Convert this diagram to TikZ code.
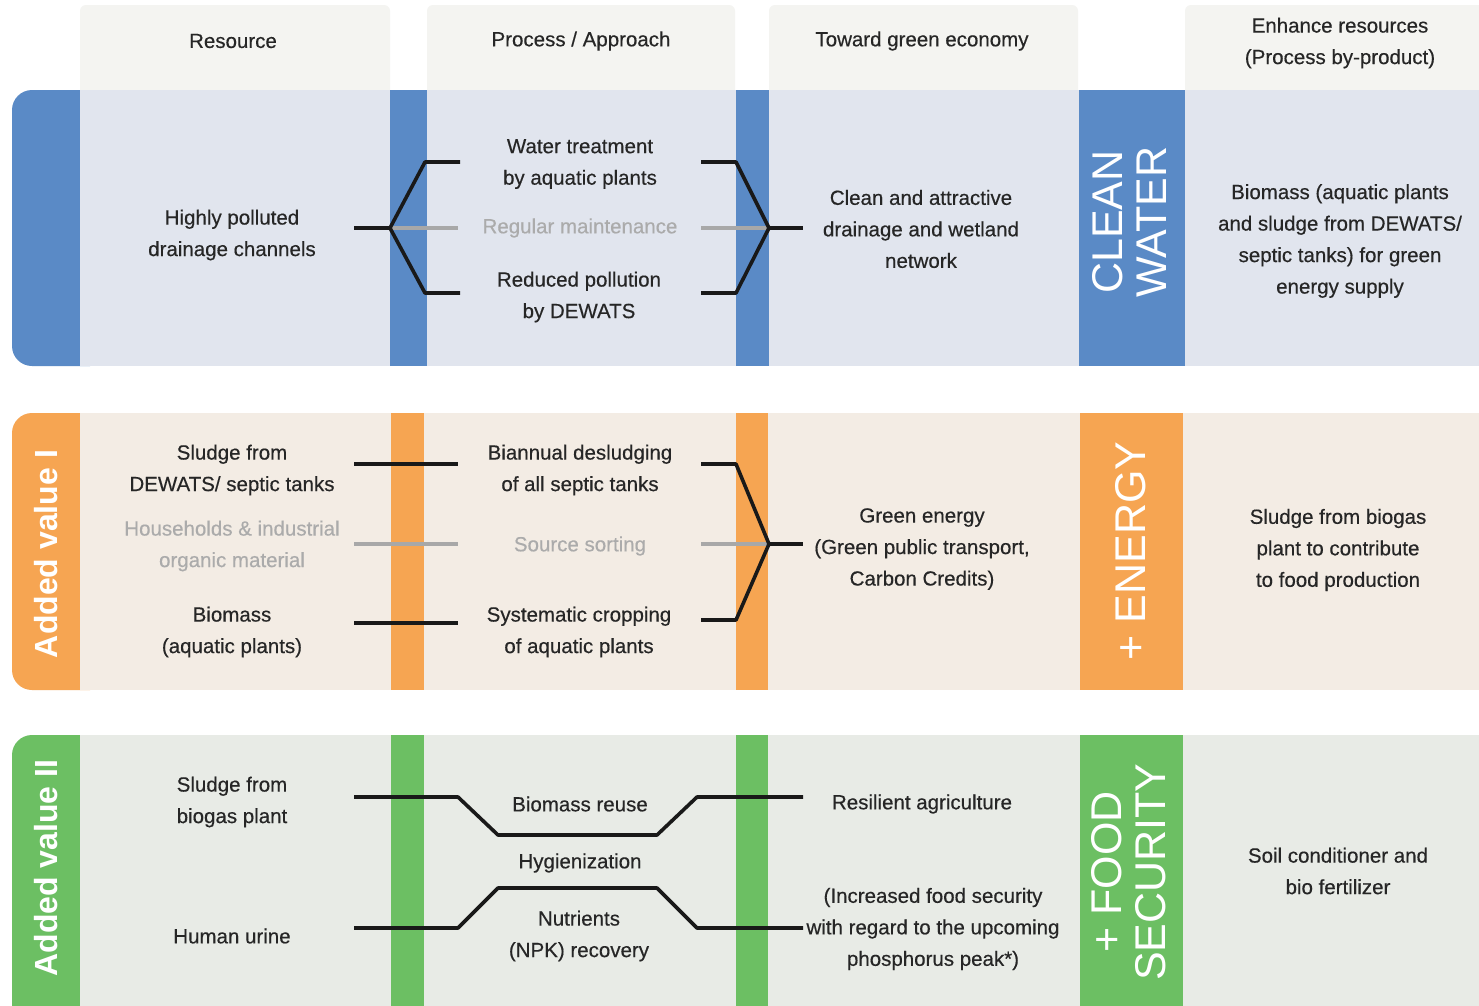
\documentclass[tikz,border=0pt]{standalone}
\usepackage{fontspec}
\setmainfont{Liberation Sans}
\newfontfamily\bodyfont[FakeBold=0.4]{Liberation Sans}
\definecolor{cblue}{HTML}{5A8AC6}
\definecolor{pblue}{HTML}{E1E5EE}
\definecolor{corange}{HTML}{F6A552}
\definecolor{porange}{HTML}{F3ECE4}
\definecolor{cgreen}{HTML}{6CBF63}
\definecolor{pgreen}{HTML}{E8EBE6}
\definecolor{hdr}{HTML}{F4F4F1}
\definecolor{txtc}{HTML}{262626}
\definecolor{greytxt}{HTML}{ABABAB}
\definecolor{greyline}{HTML}{A8A8A8}
\begin{document}
\begin{tikzpicture}[x=1pt,y=-1pt,
  txt/.style={font=\bodyfont\fontsize{20.5}{31.5}\selectfont, align=center, text=txtc, inner sep=0pt},
  gtxt/.style={txt, text=greytxt},
  biglab/.style={font=\fontsize{43}{44}\selectfont, align=center, text=white, rotate=90, inner sep=0pt},
  tablab/.style={font=\fontsize{32}{34}\selectfont\bfseries, text=white, rotate=90, inner sep=0pt},
  link/.style={draw=black!90, line width=3.6pt, line join=round},
  glink/.style={draw=greyline, line width=3.6pt}]
\useasboundingbox (0,0) rectangle (1479,1005);
\clip (0,0) rectangle (1479,1005);
\fill[white] (0,0) rectangle (1479,1005);
% headers
\fill[hdr, rounded corners=6pt] (80,5) rectangle (390,100);
\fill[hdr, rounded corners=6pt] (427,5) rectangle (735,100);
\fill[hdr, rounded corners=6pt] (769,5) rectangle (1078,100);
\fill[hdr, rounded corners=6pt] (1185,5) rectangle (1500,100);
% row 1
\fill[cblue, rounded corners=20pt] (12,90) rectangle (110,366);
\fill[pblue] (80,90) rectangle (1479,366);
\fill[cblue] (390,90) rectangle (427,366);
\fill[cblue] (736,90) rectangle (769,366);
\fill[cblue] (1079,90) rectangle (1185,366);
% row 2
\fill[corange, rounded corners=20pt] (12,413) rectangle (110,690);
\fill[porange] (80,413) rectangle (1479,690);
\fill[corange] (391,413) rectangle (424,690);
\fill[corange] (736,413) rectangle (768,690);
\fill[corange] (1080,413) rectangle (1183,690);
% row 3
\fill[cgreen, rounded corners=20pt] (12,735) rectangle (110,1030);
\fill[pgreen] (80,735) rectangle (1479,1030);
\fill[cgreen] (391,735) rectangle (424,1030);
\fill[cgreen] (736,735) rectangle (768,1030);
\fill[cgreen] (1080,735) rectangle (1183,1030);

% header texts
\node[txt] (hres) at (233,41) {Resource};
\node[txt] (hproc) at (581,41) {Process / Approach};
\node[txt] (hgreen) at (922,41) {Toward green economy};
\node[txt] (henh) at (1340,43) {Enhance resources\\(Process by-product)};

% row 1 texts
\node[txt] (r1res) at (232,235) {Highly polluted\\drainage channels};
\node[txt] (r1p1) at (580,164) {Water treatment\\by aquatic plants};
\node[gtxt] (r1p2) at (580,228) {Regular maintenance};
\node[txt] (r1p3) at (579,297) {Reduced pollution\\by DEWATS};
\node[txt] (r1g) at (921,229) {Clean and attractive\\drainage and wetland\\network};
\node[biglab] (r1lab) at (1129,222) {CLEAN\\WATER};
\node[txt] (r1enh) at (1340,241) {Biomass (aquatic plants\\and sludge from DEWATS/\\septic tanks) for green\\energy supply};

% row 2 texts
\node[tablab] (r2tab) at (46,554) {Added value I};
\node[txt] (r2a) at (232,470) {Sludge from\\DEWATS/ septic tanks};
\node[gtxt] (r2b) at (232,546) {Households \& industrial\\organic material};
\node[txt] (r2c) at (232,632) {Biomass\\(aquatic plants)};
\node[txt] (r2p1) at (580,470) {Biannual desludging\\of all septic tanks};
\node[gtxt] (r2p2) at (580,546) {Source sorting};
\node[txt] (r2p3) at (579,632) {Systematic cropping\\of aquatic plants};
\node[txt] (r2g) at (922,549) {Green energy\\(Green public transport,\\Carbon Credits)};
\node[biglab] (r2lab) at (1131,551) {+ ENERGY};
\node[txt] (r2enh) at (1338,550) {Sludge from biogas\\plant to contribute\\to food production};

% row 3 texts
\node[tablab] (r3tab) at (46,868) {Added value II};
\node[txt] (r3a) at (232,802) {Sludge from\\biogas plant};
\node[txt] (r3b) at (232,936) {Human urine};
\node[txt] (r3p1) at (580,804) {Biomass reuse};
\node[txt] (r3p2) at (580,863) {Hygienization};
\node[txt] (r3p3) at (579,936) {Nutrients\\(NPK) recovery};
\node[txt] (r3g1) at (922,804) {Resilient agriculture};
\node[txt] (r3g2) at (933,929) {(Increased food security\\with regard to the upcoming\\phosphorus peak*)};
\node[biglab] (r3lab) at (1129,872) {+ FOOD\\SECURITY};
\node[txt] (r3enh) at (1338,871) {Soil conditioner and\\bio fertilizer};

% row 1 connectors
\coordinate (r1in) at (354,228);
\coordinate (r1j) at (390,228);
\coordinate (r1a) at (425,162);
\coordinate (r1ae) at (460,162);
\coordinate (r1b) at (425,293);
\coordinate (r1be) at (460,293);
\coordinate (r1ge) at (458,228);
\coordinate (r1c) at (701,162);
\coordinate (r1c2) at (736,162);
\coordinate (r1d) at (701,293);
\coordinate (r1d2) at (736,293);
\coordinate (r1k) at (769,228);
\coordinate (r1gs) at (701,228);
\coordinate (r1out) at (803,228);
\draw[glink] (r1j) -- (r1ge);
\draw[glink] (r1gs) -- (r1k);
\draw[link] (r1in) -- (r1j);
\draw[link] (r1ae) -- (r1a) -- (r1j) -- (r1b) -- (r1be);
\draw[link] (r1c) -- (r1c2) -- (r1k) -- (r1d2) -- (r1d);
\draw[link] (r1k) -- (r1out);

% row 2 connectors
\coordinate (r2l1) at (354,464);
\coordinate (r2l1e) at (458,464);
\coordinate (r2l2) at (354,544);
\coordinate (r2l2e) at (458,544);
\coordinate (r2l3) at (354,623);
\coordinate (r2l3e) at (458,623);
\coordinate (r2c) at (701,464);
\coordinate (r2c2) at (736,464);
\coordinate (r2d) at (701,620);
\coordinate (r2d2) at (736,620);
\coordinate (r2k) at (769,544);
\coordinate (r2gs) at (701,544);
\coordinate (r2out) at (803,544);
\draw[glink] (r2l2) -- (r2l2e);
\draw[glink] (r2gs) -- (r2k);
\draw[link] (r2l1) -- (r2l1e);
\draw[link] (r2l3) -- (r2l3e);
\draw[link] (r2c) -- (r2c2) -- (r2k) -- (r2d2) -- (r2d);
\draw[link] (r2k) -- (r2out);

% row 3 connectors
\coordinate (t1) at (354,797);
\coordinate (t2) at (458,797);
\coordinate (t3) at (498,835);
\coordinate (t4) at (657,835);
\coordinate (t5) at (697,797);
\coordinate (t6) at (803,797);
\coordinate (b1) at (354,928);
\coordinate (b2) at (458,928);
\coordinate (b3) at (498,888);
\coordinate (b4) at (657,888);
\coordinate (b5) at (697,928);
\coordinate (b6) at (803,928);
\draw[link] (t1) -- (t2) -- (t3) -- (t4) -- (t5) -- (t6);
\draw[link] (b1) -- (b2) -- (b3) -- (b4) -- (b5) -- (b6);
\end{tikzpicture}
\end{document}
